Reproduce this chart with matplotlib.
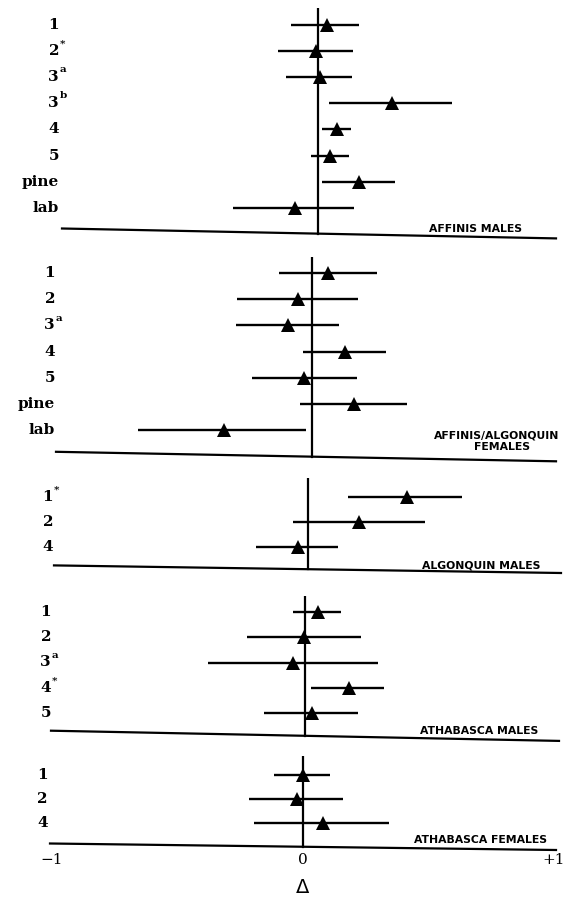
import matplotlib.pyplot as plt

W, H = 564, 899

# ---- data (delta estimates and their ranges), one block per panel ----
aff_m_labels = ["1", "2", "3", "3", "4", "5", "pine", "lab"]
aff_m_sup = ["", "*", "a", "b", "", "", "", ""]
aff_m_delta = [0.035, -0.008, 0.008, 0.294, 0.075, 0.048, 0.165, -0.090]
aff_m_lo = [-0.109, -0.161, -0.127, 0.045, 0.015, -0.029, 0.015, -0.337]
aff_m_hi = [0.165, 0.141, 0.135, 0.535, 0.131, 0.125, 0.307, 0.145]

aff_alg_f_labels = ["1", "2", "3", "4", "5", "pine", "lab"]
aff_alg_f_sup = ["", "", "a", "", "", "", ""]
aff_alg_f_delta = [0.065, -0.055, -0.094, 0.131, -0.031, 0.169, -0.349]
aff_alg_f_lo = [-0.131, -0.298, -0.304, -0.037, -0.240, -0.048, -0.692]
aff_alg_f_hi = [0.258, 0.182, 0.108, 0.294, 0.180, 0.377, -0.024]

alg_m_labels = ["1", "2", "4"]
alg_m_sup = ["*", "", ""]
alg_m_delta = [0.393, 0.203, -0.039]
alg_m_lo = [0.161, -0.061, -0.207]
alg_m_hi = [0.612, 0.466, 0.121]

ath_m_labels = ["1", "2", "3", "4", "5"]
ath_m_sup = ["", "", "a", "*", ""]
ath_m_delta = [0.053, -0.003, -0.047, 0.175, 0.027]
ath_m_lo = [-0.047, -0.232, -0.388, 0.024, -0.162]
ath_m_hi = [0.142, 0.223, 0.290, 0.316, 0.210]

ath_f_labels = ["1", "2", "4"]
ath_f_sup = ["", "", ""]
ath_f_delta = [0.001, -0.025, 0.078]
ath_f_lo = [-0.114, -0.214, -0.195]
ath_f_hi = [0.108, 0.161, 0.344]

x_ticks = [-1, 0, 1]
x_ticklabels = ["\u22121", "0", "+1"]

# ---- layout (pixels of the 564x899 picture) ----
X_LEFT, X_RIGHT = 50, 556
PX_PER_UNIT = 251

panels = [
  dict(labels=aff_m_labels, sup=aff_m_sup, delta=aff_m_delta, lo=aff_m_lo, hi=aff_m_hi,
       top=8, row0=25, step=26.1, zero=318, base=((62, 228.5), (556, 238.4)),
       lab_x=59, title=[("AFFINIS MALES", 522, 229, "right")]),
  dict(labels=aff_alg_f_labels, sup=aff_alg_f_sup, delta=aff_alg_f_delta, lo=aff_alg_f_lo, hi=aff_alg_f_hi,
       top=257, row0=273, step=26.2, zero=312, base=((56, 451.8), (556, 461.3)),
       lab_x=55, title=[("AFFINIS/ALGONQUIN", 559, 436, "right"), ("FEMALES", 502, 447, "center")]),
  dict(labels=alg_m_labels, sup=alg_m_sup, delta=alg_m_delta, lo=alg_m_lo, hi=alg_m_hi,
       top=478, row0=497, step=25, zero=308, base=((54, 565.4), (561, 573)),
       lab_x=53, title=[("ALGONQUIN MALES", 540, 566, "right")]),
  dict(labels=ath_m_labels, sup=ath_m_sup, delta=ath_m_delta, lo=ath_m_lo, hi=ath_m_hi,
       top=596, row0=612, step=25.25, zero=305, base=((51, 730.7), (559, 740.9)),
       lab_x=51, title=[("ATHABASCA MALES", 538, 731, "right")]),
  dict(labels=ath_f_labels, sup=ath_f_sup, delta=ath_f_delta, lo=ath_f_lo, hi=ath_f_hi,
       top=756, row0=775, step=24, zero=303, base=((50, 843.5), (556, 850)),
       lab_x=48, title=[("ATHABASCA FEMALES", 547, 840, "right")]),
]

fig = plt.figure(figsize=(W / 100, H / 100), dpi=100)

LABEL_FONT = dict(family="DejaVu Serif", weight="bold", size=11)
TITLE_FONT = dict(family="DejaVu Sans", weight="bold", size=7.8)

for k, p in enumerate(panels):
  top = p["top"]
  bottom = max(p["base"][0][1], p["base"][1][1])
  ax = fig.add_axes([X_LEFT / W, 1 - bottom / H, (X_RIGHT - X_LEFT) / W, (bottom - top) / H])
  ax.set_xlim((X_LEFT - p["zero"]) / PX_PER_UNIT, (X_RIGHT - p["zero"]) / PX_PER_UNIT)
  ax.set_ylim((bottom - p["row0"]) / p["step"], (top - p["row0"]) / p["step"])
  for s in ax.spines.values():
    s.set_visible(False)
  ax.set_yticks([])

  rows = list(range(len(p["labels"])))
  ax.hlines(rows, p["lo"], p["hi"], color="black", lw=1.7)
  ax.plot(p["delta"], rows, "^", color="black", ms=10, mew=0, clip_on=False)

  # slanted base line
  def to_ax(px, py):
    return (px - X_LEFT) / (X_RIGHT - X_LEFT), (bottom - py) / (bottom - top)
  (bx0, by0), (bx1, by1) = p["base"]
  a0 = to_ax(bx0, by0)
  a1 = to_ax(bx1, by1)
  ax.plot([a0[0], a1[0]], [a0[1], a1[1]], color="black", lw=1.6,
          transform=ax.transAxes, clip_on=False)

  # zero line down to the base line
  yb = by0 + (p["zero"] - bx0) / (bx1 - bx0) * (by1 - by0)
  ax.axvline(0, ymin=to_ax(p["zero"], yb)[1], ymax=1, color="black", lw=1.6)

  # row labels with superscripts
  lx = (p["lab_x"] - X_LEFT) / (X_RIGHT - X_LEFT)
  tr = ax.get_yaxis_transform()
  for r, lab, sup in zip(rows, p["labels"], p["sup"]):
    ax.text(lx, r, lab, ha="right", va="center", transform=tr, **LABEL_FONT)
    if sup:
      ax.text(lx + 0.002, r - 0.28, sup, ha="left", va="center", transform=tr,
              family="DejaVu Serif", weight="bold", size=7.5)

  for txt, tx, ty, ha in p["title"]:
    fig.text(tx / W, 1 - ty / H, txt, ha=ha, va="center", **TITLE_FONT)

  if k == len(panels) - 1:
    ax.set_xticks(x_ticks)
    ax.set_xticklabels(x_ticklabels, family="DejaVu Serif", size=11)
    ax.tick_params(axis="x", length=0, pad=2)
    ax.set_xlabel("\u0394", family="DejaVu Sans", size=14, labelpad=8)
  else:
    ax.set_xticks([])

fig.savefig("out.png", dpi=100)
